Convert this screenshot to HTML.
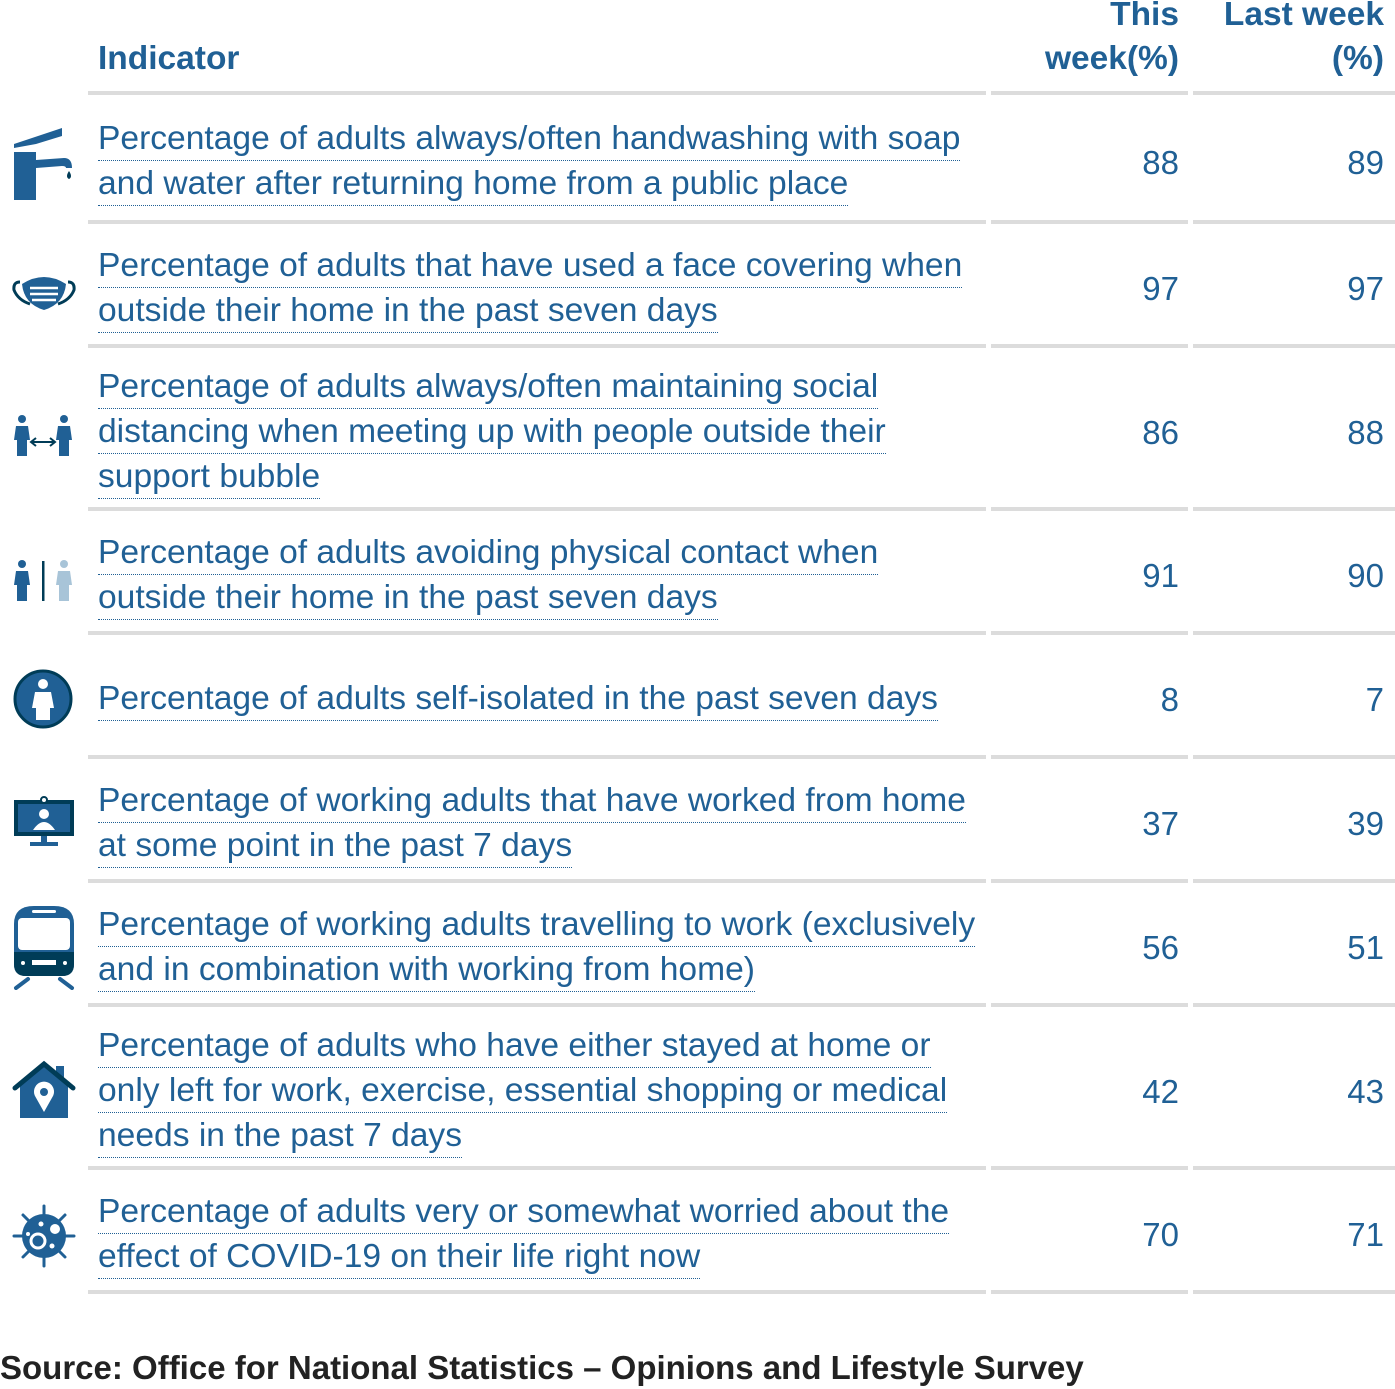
<!DOCTYPE html>
<html><head><meta charset="utf-8"><style>
body{margin:0;width:1395px;height:1389px;background:#fff;position:relative;overflow:hidden;font-family:"Liberation Sans",sans-serif;color:#206095}
.abs{position:absolute}
.hd{font-weight:bold;font-size:33.5px;line-height:44px;text-align:right}
.sep{position:absolute;height:4px;background:#dcdcdc}
.ln{position:absolute;left:98px;height:42px;line-height:42px;font-size:33.6px;white-space:nowrap;border-bottom:1.5px dotted #206095}
.v{position:absolute;font-size:33px;text-align:right;width:150px;line-height:40px}
.ic{position:absolute;left:12px}
</style></head><body>
<div class="abs hd" style="left:98px;top:37px;text-align:left">Indicator</div>
<div class="abs hd" style="right:216px;top:-7px">This<br>week(%)</div>
<div class="abs hd" style="right:11px;top:-7px">Last week<br>(%)</div>

<div id="rows"></div>

<svg class="ic" style="top:126px" width="64" height="76" viewBox="0 0 64 76"><path d="M2 18 L50 2 L50 10 L24 18 L2 22Z M2 26 H24 V34 L52 32 Q60 32 60 42 H54 Q54 40 50 40 L24 42 V74 H2Z" fill="#206095"/><path d="M57 45 Q61 51 57 53 Q53 51 57 45Z" fill="#003c57"/></svg>
<svg class="ic" style="top:274px" width="64" height="40" viewBox="0 0 64 40"><path d="M8 8 Q1 8 2 16 Q6 26 18 30 M56 8 Q63 8 62 16 Q58 26 46 30" stroke="#003c57" stroke-width="3" fill="none"/><path d="M10 10 Q32 -4 54 10 Q52 30 32 36 Q12 30 10 10Z" fill="#206095"/><path d="M18 14 H46 M18 20 H46 M20 26 H44" stroke="#fff" stroke-width="2.5"/></svg>
<svg class="ic" style="top:412px" width="64" height="48" viewBox="0 0 64 48"><g fill="#206095"><circle cx="10" cy="7" r="4"/><path d="M4 14 H16 L18 28 H15 V44 H5 V28 H2Z"/><circle cx="52" cy="7" r="4"/><path d="M46 14 H58 L60 28 H57 V44 H47 V28 H44Z"/></g><path d="M20 30 H42 M24 26 L19 30 L24 34 M38 26 L43 30 L38 34" stroke="#003c57" stroke-width="2" fill="none"/></svg>
<svg class="ic" style="top:557px" width="64" height="48" viewBox="0 0 64 48"><g fill="#206095"><circle cx="10" cy="7" r="4"/><path d="M4 14 H16 L18 28 H15 V44 H5 V28 H2Z"/></g><rect x="30" y="4" width="2.5" height="40" fill="#003c57"/><g fill="#a8c4d8"><circle cx="52" cy="7" r="4"/><path d="M46 14 H58 L60 28 H57 V44 H47 V28 H44Z"/></g></svg>
<svg class="ic" style="top:668px" width="62" height="62" viewBox="0 0 62 62"><circle cx="31" cy="31" r="28" fill="#206095" stroke="#003c57" stroke-width="3"/><circle cx="31" cy="16" r="5" fill="#fff"/><path d="M23 24 H39 L42 40 H38 V52 H24 V40 H20Z" fill="#fff"/></svg>
<svg class="ic" style="top:794px" width="64" height="56" viewBox="0 0 64 56"><rect x="2" y="6" width="60" height="36" fill="#003c57"/><rect x="6" y="10" width="52" height="28" fill="#206095"/><circle cx="32" cy="6" r="3" fill="#fff" stroke="#003c57" stroke-width="2"/><circle cx="32" cy="20" r="5" fill="#fff"/><path d="M21 36 Q32 20 43 36Z" fill="#fff"/><rect x="29" y="42" width="6" height="6" fill="#206095"/><rect x="18" y="48" width="28" height="4" fill="#206095"/></svg>
<svg class="ic" style="top:904px" width="64" height="86" viewBox="0 0 64 86"><path d="M2 20 Q2 2 22 2 H42 Q62 2 62 20 V60 Q62 72 50 72 H14 Q2 72 2 60Z" fill="#206095"/><rect x="6" y="14" width="52" height="32" rx="4" fill="#fff"/><path d="M2 48 H62 V60 Q62 72 50 72 H14 Q2 72 2 60Z" fill="#003c57"/><rect x="20" y="6" width="24" height="3" rx="1.5" fill="#fff"/><rect x="20" y="56" width="24" height="5" fill="#fff"/><circle cx="11" cy="59" r="2" fill="#fff"/><circle cx="53" cy="59" r="2" fill="#fff"/><path d="M16 75 L4 84 M48 75 L60 84" stroke="#206095" stroke-width="4" stroke-linecap="round"/></svg>
<svg class="ic" style="top:1060px" width="64" height="60" viewBox="0 0 64 60"><path d="M8 26 L32 6 L56 26 V58 H8Z" fill="#206095"/><rect x="44" y="6" width="8" height="14" fill="#206095"/><path d="M3 28 L32 4 L61 28" stroke="#003c57" stroke-width="5" fill="none" stroke-linecap="round"/><path d="M32 52 L23 36 A10 10 0 1 1 41 36Z" fill="#fff"/><circle cx="32" cy="32" r="4" fill="#206095"/></svg>
<svg class="ic" style="top:1204px" width="64" height="64" viewBox="0 0 64 64"><g stroke="#206095" stroke-width="3" stroke-linecap="round"><path d="M32 2 V62 M2 32 H62 M11 11 L53 53 M53 11 L11 53"/></g><circle cx="32" cy="32" r="22" fill="#206095"/><circle cx="26" cy="37" r="7" fill="none" stroke="#fff" stroke-width="3"/><circle cx="43" cy="25" r="5" fill="#fff"/><circle cx="29" cy="20" r="2.5" fill="#fff"/><circle cx="40" cy="42" r="2.5" fill="#fff"/><circle cx="16" cy="30" r="2" fill="#fff"/></svg>

<div class="abs" style="left:0;top:1349px;font-size:33px;font-weight:bold;color:#222;white-space:nowrap">Source: Office for National Statistics – Opinions and Lifestyle Survey</div>

<script>
const indicators=[
["Percentage of adults always/often handwashing with soap","and water after returning home from a public place"],
["Percentage of adults that have used a face covering when","outside their home in the past seven days"],
["Percentage of adults always/often maintaining social","distancing when meeting up with people outside their","support bubble"],
["Percentage of adults avoiding physical contact when","outside their home in the past seven days"],
["Percentage of adults self-isolated in the past seven days"],
["Percentage of working adults that have worked from home","at some point in the past 7 days"],
["Percentage of working adults travelling to work (exclusively","and in combination with working from home)"],
["Percentage of adults who have either stayed at home or","only left for work, exercise, essential shopping or medical","needs in the past 7 days"],
["Percentage of adults very or somewhat worried about the","effect of COVID-19 on their life right now"]];
const thisWeek=[88,97,86,91,8,37,56,42,70];
const lastWeek=[89,97,88,90,7,39,51,43,71];
const root=document.getElementById('rows');
function sep(y){
  [[88,898],[991,197],[1193,202]].forEach(function(c){
    const s=document.createElement('div');s.className='sep';
    
    
    s.style.left=c[0]+'px';s.style.width=c[1]+'px';s.style.top=y+'px';root.appendChild(s);});
}
let y=91;sep(y);
indicators.forEach(function(lines,i){
  const h=lines.length===3?163:(i===0?129:124);
  const cy=y+7+h/2;
  lines.forEach(function(t,j){
    const d=document.createElement('div');d.className='ln';
    
    
    d.textContent=t;
    const c=cy+(j-(lines.length-1)/2)*45;
    d.style.top=(c-22)+'px';root.appendChild(d);});
  const a=document.createElement('div');a.className='v';
  
  
  a.textContent=thisWeek[i];a.style.left=(1179-150)+'px';a.style.top=(cy-20)+'px';root.appendChild(a);
  const b=document.createElement('div');b.className='v';
  
  
  b.textContent=lastWeek[i];b.style.left=(1384-150)+'px';b.style.top=(cy-20)+'px';root.appendChild(b);
  y+=h;sep(y);
});
</script>
</body></html>
